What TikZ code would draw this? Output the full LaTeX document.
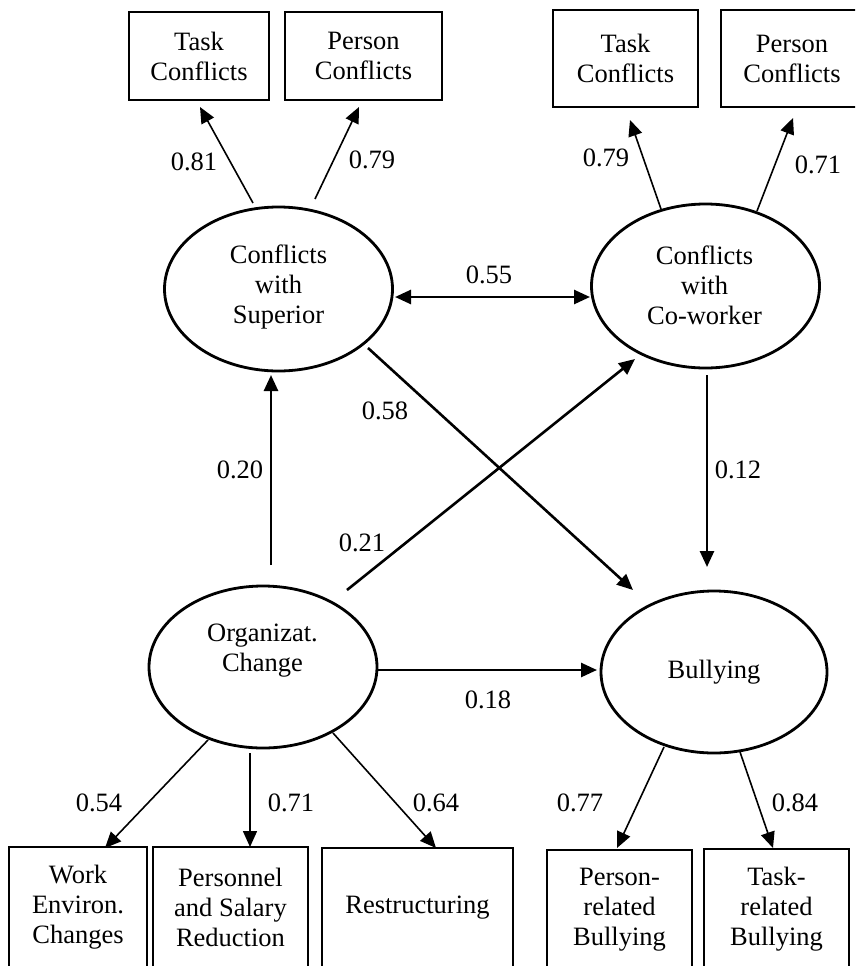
\documentclass[tikz,border=0pt]{standalone}
\usepackage{fontspec}
\setmainfont{Liberation Serif}
\usetikzlibrary{arrows.meta,shapes.geometric,calc}
\begin{document}
\begin{tikzpicture}[x=1pt,y=-1pt,
  font=\fontsize{26.5}{30}\selectfont,
  obs/.style={draw,line width=1.6pt,rectangle,inner sep=0pt,align=center},
  lat/.style={draw,line width=2.8pt,ellipse,inner sep=0pt},
  txt/.style={inner sep=0pt,align=center},
  lab/.style={inner sep=0pt},
  tip/.style={-{Triangle[length=16pt,width=14pt]}},
  thin/.style={tip,line width=1.6pt},
  thick/.style={tip,line width=2.6pt}]
\useasboundingbox (0,0) rectangle (855,966);
\clip (0,0) rectangle (855,966);

% top boxes
\node[obs,minimum width=140pt,minimum height=88pt] (tc1) at (199,56) {Task\\Conflicts};
\node[obs,minimum width=157pt,minimum height=88pt] (pc1) at (363.5,56) {Person\\Conflicts};
\node[obs,minimum width=145pt,minimum height=97pt] (tc2) at (625.5,58.5) {Task\\Conflicts};
\node[obs,minimum width=142pt,minimum height=97pt] (pc2) at (792,58.5) {Person\\Conflicts};

% bottom boxes
\node[obs,minimum width=138pt,minimum height=120pt] (we) at (78,907) {Work\\Environ.\\Changes};
\node[obs,minimum width=155pt,minimum height=120pt] (ps) at (230.5,907) {Personnel\\and Salary\\Reduction};
\node[obs,minimum width=191pt,minimum height=120pt] (rs) at (417.5,908) {Restructuring};
\node[obs,minimum width=145pt,minimum height=120pt] (pr) at (619.5,910) {Person-\\related\\Bullying};
\node[obs,minimum width=145pt,minimum height=120pt] (tr) at (776.5,909) {Task-\\related\\Bullying};

% latent variables
\node[lat,minimum width=228pt,minimum height=164pt] (sup) at (278.5,289) {};
\node[txt] (supt) at (278.5,287) {Conflicts\\with\\Superior};
\node[lat,minimum width=228pt,minimum height=164pt] (cw) at (705.5,286) {};
\node[txt] (cwt) at (704.5,285) {Conflicts\\with\\Co-worker};
\node[lat,minimum width=228pt,minimum height=162pt] (org) at (263,667) {};
\node[txt] (orgt) at (262.5,651) {Organizat.\\Change};
\node[lat,minimum width=226pt,minimum height=162pt] (bul) at (714,672) {};
\node[txt] (bult) at (714,672) {Bullying};

% indicator arrows
\draw[thin] ($(sup)+(-25.5,-86)$) -- ($(tc1)+(1,51)$);
\draw[thin] ($(sup)+(36.5,-90)$) -- ($(pc1)+(-4.5,51)$);
\draw[thin] ($(cw)+(-44.5,-77)$) -- ($(tc2)+(4.5,61.5)$);
\draw[thin] ($(cw)+(51.5,-75)$) -- ($(pc2)+(1,59.5)$);
\draw[thin] ($(org)+(-55,73)$) -- ($(we)+(27,-59)$);
\draw[thin] ($(org)+(-13,86)$) -- ($(ps)+(19.5,-60)$);
\draw[thin] ($(org)+(70,66)$) -- ($(rs)+(18.5,-60)$);
\draw[thin] ($(bul)+(-50,75)$) -- ($(pr)+(-2.5,-62)$);
\draw[thin] ($(bul)+(26,80)$) -- ($(tr)+(-3.5,-61)$);

% structural arrows
\draw[line width=2.6pt,{Triangle[length=16pt,width=14pt]}-{Triangle[length=16pt,width=14pt]}]
  ($(sup)+(116.5,8)$) -- ($(cw)+(-115.5,11)$);
\draw[thick] ($(sup)+(89.5,59)$) -- ($(bul)+(-81,-82)$);
\draw[thick] ($(org)+(84,-77)$) -- ($(cw)+(-70.5,73)$);
\draw[thick] ($(org)+(8,-102)$) -- ($(sup)+(-7.5,86)$);
\draw[thick] ($(cw)+(1.5,89)$) -- ($(bul)+(-7,-105)$);
\draw[thick] ($(org)+(115,3)$) -- ($(bul)+(-117,-2)$);

% labels
\node[lab] (l1) at (194,162) {0.81};
\node[lab] (l2) at (372,160) {0.79};
\node[lab] (l3) at (606,158) {0.79};
\node[lab] (l4) at (818,165) {0.71};
\node[lab] (l5) at (489,275) {0.55};
\node[lab] (l6) at (385,411) {0.58};
\node[lab] (l7) at (362,543) {0.21};
\node[lab] (l8) at (240,470) {0.20};
\node[lab] (l9) at (738,470) {0.12};
\node[lab] (l10) at (488,700) {0.18};
\node[lab] (l11) at (99,803) {0.54};
\node[lab] (l12) at (291,803) {0.71};
\node[lab] (l13) at (436,803) {0.64};
\node[lab] (l14) at (580,803) {0.77};
\node[lab] (l15) at (795,803) {0.84};
\end{tikzpicture}
\end{document}
